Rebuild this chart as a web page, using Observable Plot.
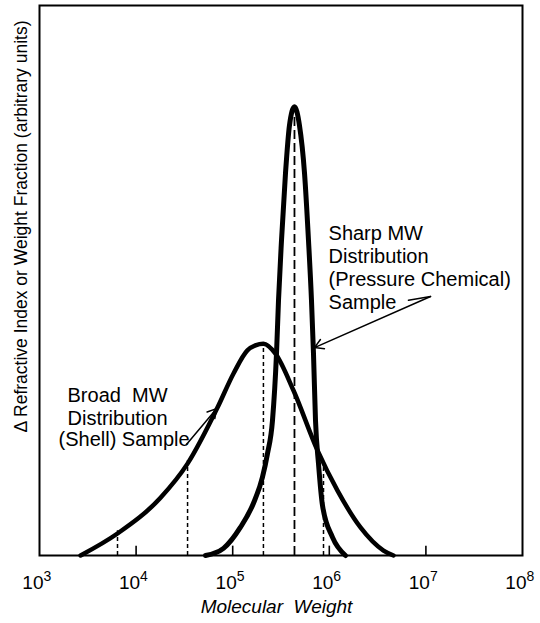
<!DOCTYPE html>
<html><head><meta charset="utf-8">
<script src="https://cdn.jsdelivr.net/npm/d3@7"></script>
<script src="https://cdn.jsdelivr.net/npm/@observablehq/plot@0.6"></script>
<style>
body{margin:0;background:#fff;}
svg{font-family:"Liberation Sans",Arial,sans-serif;}
</style>
</head><body><div id="chart"></div>
<script>
// Broad MW distribution (Shell) sample
const broadMW = [2660, 6420, 17900, 34100, 69600, 102000, 142000, 172000, 208000, 277000, 426000, 755000, 1216000, 2103000, 3640000, 4620000];
const broadY  = [0, 4.0, 10.5, 16.7, 26.9, 33.1, 37.3, 38.2, 38.5, 36.7, 30.0, 19.1, 11.8, 5.1, 0.9, 0];
// Sharp MW distribution (Pressure Chemical) sample
const sharpMW = [52300, 80300, 120000, 164000, 203000, 229000, 258000, 284000, 298000, 320000, 352000, 387000, 436000, 491000, 554000, 609000, 654000, 686000, 720000, 773000, 850000, 1080000, 1470000];
const sharpY  = [0, 1.3, 5.1, 9.5, 14.2, 18.5, 24.5, 36.7, 46.4, 57.3, 69.5, 78.2, 81.6, 78.2, 69.5, 57.3, 46.4, 36.7, 24.5, 16.7, 9.1, 3.3, 0];
// dashed average-MW markers
const broadDashMW = [6420, 34100, 208000, 871000];
const broadDashY  = [4.5, 17.5, 38.5, 17.0];
const sharpDashMW = [436000];
const sharpDashY  = [80];
// axis
const tickValues = [1e3, 1e4, 1e5, 1e6, 1e7, 1e8];
const tickExponents = ["3", "4", "5", "6", "7", "8"];
const innerTicks = [1e4, 1e5, 1e6, 1e7];
const xLabel = "Molecular  Weight";
const yLabel = "\u0394 Refractive Index or Weight Fraction (arbitrary units)";
const sharpLabel = "Sharp MW\nDistribution\n(Pressure Chemical)\nSample";
const broadLabelTop = "Broad  MW\nDistribution";
const broadLabelBottom = "(Shell) Sample";

const broad = broadMW.map((m, i) => ({mw: m, y: broadY[i]}));
const sharp = sharpMW.map((m, i) => ({mw: m, y: sharpY[i]}));
const bDash = broadDashMW.map((m, i) => ({mw: m, y: broadDashY[i]}));
const sDash = sharpDashMW.map((m, i) => ({mw: m, y: sharpDashY[i]}));
const ticks = tickValues.map((t, i) => ({mw: t, e: tickExponents[i]}));

const chart = Plot.plot({
  width: 540,
  height: 623,
  marginTop: 5,
  marginBottom: 68,
  marginLeft: 39,
  marginRight: 18,
  style: {background: "#fff", color: "#000", fontFamily: "Liberation Sans, Arial, sans-serif"},
  x: {type: "log", domain: [1e3, 1e8], axis: null},
  y: {domain: [0, 100], axis: null},
  marks: [
    Plot.frame({stroke: "#000", strokeWidth: 2}),
    Plot.ruleX(innerTicks, {x: d => d, y1: 0, y2: 1.7, stroke: "#000", strokeWidth: 1.6}),
    Plot.ruleX(bDash, {x: "mw", y1: 0, y2: "y", stroke: "#000", strokeWidth: 1.5, strokeDasharray: "4,3"}),
    Plot.ruleX(sDash, {x: "mw", y1: 0, y2: "y", stroke: "#000", strokeWidth: 1.8, strokeDasharray: "9,4"}),
    Plot.line(broad, {x: "mw", y: "y", curve: "monotone-x", stroke: "#000", strokeWidth: 4.5}),
    Plot.line(sharp, {x: "mw", y: "y", curve: "monotone-x", stroke: "#000", strokeWidth: 5}),
    // tick labels: 10 with superscript exponent
    Plot.text(ticks, {x: "mw", y: () => 0, text: () => "10", dx: 4, dy: 33, textAnchor: "end", lineAnchor: "bottom", fontSize: 19}),
    Plot.text(ticks, {x: "mw", y: () => 0, text: "e", dx: 4, dy: 25, textAnchor: "start", lineAnchor: "bottom", fontSize: 14}),
    // axis titles
    Plot.text([xLabel], {x: () => 284000, y: () => 0, text: d => d, dy: 57, lineAnchor: "bottom", fontSize: 19, fontStyle: "italic"}),
    Plot.text([yLabel], {frameAnchor: "top-left", text: d => d, dx: -18, dy: 15, rotate: -90, textAnchor: "end", lineAnchor: "middle", fontSize: 17.5}),
    // annotations
    Plot.text([sharpLabel], {x: () => 982000, y: () => 60.4, text: d => d, textAnchor: "start", lineAnchor: "top", lineHeight: 1.15, fontSize: 20}),
    Plot.line([{mw: 6.6e6, y: 46.4}, {mw: 1.117e7, y: 47.1}], {x: "mw", y: "y", stroke: "#000", strokeWidth: 1.5}),
    Plot.arrow([{x1: 1.117e7, y1: 47.1, x2: 703000, y2: 37.8}], {x1: "x1", y1: "y1", x2: "x2", y2: "y2", stroke: "#000", strokeWidth: 1.5, headLength: 10, bend: 0}),
    Plot.text([broadLabelTop], {x: () => 1950, y: () => 30.8, text: d => d, textAnchor: "start", lineAnchor: "top", lineHeight: 1.13, fontSize: 20}),
    Plot.text([broadLabelBottom], {x: () => 1573, y: () => 20.0, text: d => d, textAnchor: "start", lineAnchor: "bottom", fontSize: 20}),
    Plot.arrow([{x1: 33200, y1: 20.2, x2: 68000, y2: 26.7}], {x1: "x1", y1: "y1", x2: "x2", y2: "y2", stroke: "#000", strokeWidth: 1.5, headLength: 10, bend: 0})
  ]
});
document.getElementById("chart").appendChild(chart);
</script>
</body></html>
